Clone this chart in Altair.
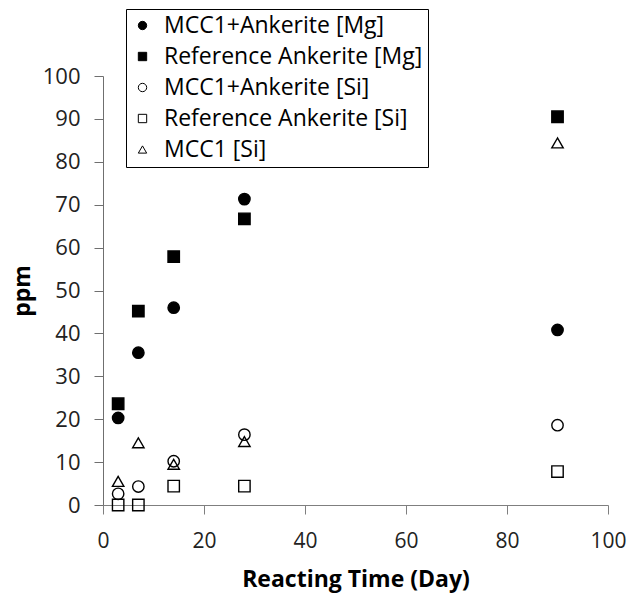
import altair as alt
import pandas as pd

days = [3, 7, 14, 28, 90]
series = [
    "MCC1+Ankerite [Mg]",
    "Reference Ankerite [Mg]",
    "MCC1+Ankerite [Si]",
    "Reference Ankerite [Si]",
    "MCC1 [Si]",
]
mcc1_ank_mg = [20.3, 35.5, 46.0, 71.3, 40.8]
ref_ank_mg = [23.6, 45.2, 57.9, 66.7, 90.5]
mcc1_ank_si = [2.6, 4.3, 10.2, 16.4, 18.6]
ref_ank_si = [0.0, 0.0, 4.4, 4.4, 7.8]
mcc1_si = [5.5, 14.5, 9.5, 14.8, 84.4]

shapes = ["circle", "square", "circle", "square", "triangle-up"]
fills = ["black", "black", "transparent", "transparent", "transparent"]
strokes = ["black", "black", "black", "black", "black"]

values = [mcc1_ank_mg, ref_ank_mg, mcc1_ank_si, ref_ank_si, mcc1_si]
rows = []
for name, vals in zip(series, values):
    for d, v in zip(days, vals):
        rows.append({"day": d, "ppm": v, "series": name})
df = pd.DataFrame(rows)

FONT = "Open Sans"

legend = alt.Legend(
    title=None,
    orient="none",
    legendX=23,
    legendY=-67,
    strokeColor="black",
    fillColor="white",
    padding=5,
    labelFont=FONT,
    labelFontSize=23,
    labelColor="black",
    labelOffset=10,
    symbolSize=70,
    symbolStrokeColor="black",
    symbolStrokeWidth=1,
    rowPadding=7,
    labelLimit=400,
)

chart = (
    alt.Chart(df)
    .mark_point(filled=False, size=130, strokeWidth=1.4, opacity=1)
    .encode(
        x=alt.X(
            "day:Q",
            scale=alt.Scale(domain=[0, 100], nice=False),
            axis=alt.Axis(
                title="Reacting Time (Day)",
                values=[0, 20, 40, 60, 80, 100],
                grid=False,
                labelFlush=False,
                domainColor="#7f7f7f",
                tickColor="#7f7f7f",
                tickSize=9,
                labelFont=FONT,
                labelFontSize=21,
                labelColor="#222222",
                labelPadding=16,
                titleFont=FONT,
                titleFontSize=23,
                titleFontWeight="bold",
                titleColor="black",
                titlePadding=17,
            ),
        ),
        y=alt.Y(
            "ppm:Q",
            scale=alt.Scale(domain=[0, 100], nice=False),
            axis=alt.Axis(
                title="ppm",
                values=[0, 10, 20, 30, 40, 50, 60, 70, 80, 90, 100],
                grid=False,
                labelFlush=False,
                domainColor="#6f6f6f",
                tickColor="#6f6f6f",
                tickSize=9,
                labelFont=FONT,
                labelFontSize=22,
                labelColor="#222222",
                labelPadding=14,
                titleFont=FONT,
                titleFontSize=23,
                titleFontWeight="bold",
                titleColor="black",
                titlePadding=8,
            ),
        ),
        shape=alt.Shape(
            "series:N",
            scale=alt.Scale(domain=series, range=shapes),
            legend=legend,
        ),
        fill=alt.Fill(
            "series:N",
            scale=alt.Scale(domain=series, range=fills),
            legend=legend,
        ),
        stroke=alt.Stroke(
            "series:N",
            scale=alt.Scale(domain=series, range=strokes),
            legend=legend,
        ),
    )
    .properties(
        width=505,
        height=429,
        autosize=alt.AutoSizeParams(type="none"),
        padding={"left": 95, "top": 68, "right": 19, "bottom": 88},
    )
    .configure_view(stroke=None)
)

chart.save("out.html", embed_options={"renderer": "svg", "actions": False})
